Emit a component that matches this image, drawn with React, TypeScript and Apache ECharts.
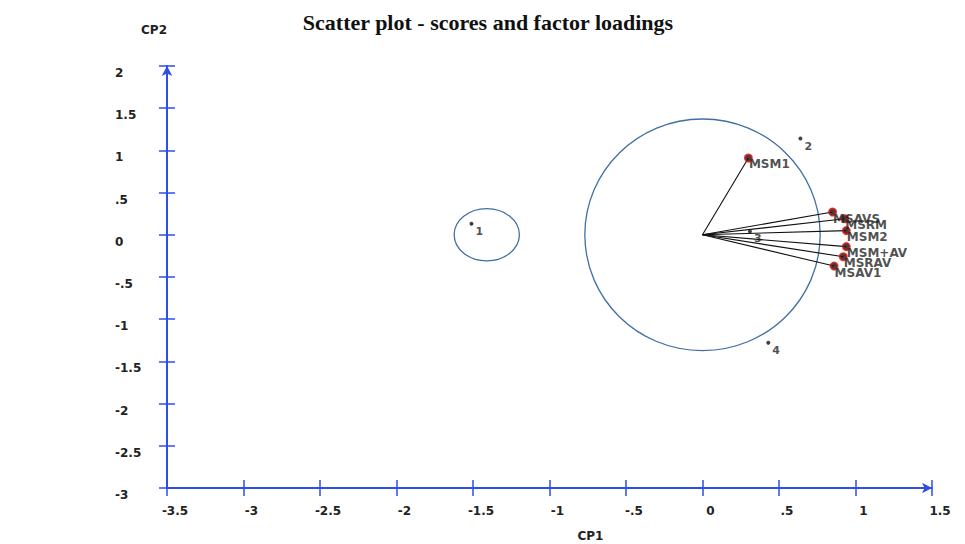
import React, { useEffect, useRef } from "react";
import * as echarts from "echarts";

const titleText = "Scatter plot - scores and factor loadings";
const xTickLabels = ["-3.5", "-3", "-2.5", "-2", "-1.5", "-1", "-.5", "0", ".5", "1", "1.5"];
const yTickLabels = ["-3", "-2.5", "-2", "-1.5", "-1", "-.5", "0", ".5", "1", "1.5", "2"];

const scoreNames = ["1", "2", "3", "4"];
const scoreX = [-1.51, 0.64, 0.31, 0.43];
const scoreY = [0.13, 1.14, 0.04, -1.28];

const loadingNames = ["MSM1", "MSAVS", "MSRM", "MSM2", "MSM+AV", "MSRAV", "MSAV1"];
const loadingX = [0.3, 0.85, 0.93, 0.94, 0.94, 0.92, 0.86];
const loadingY = [0.91, 0.27, 0.19, 0.05, -0.14, -0.26, -0.37];

const circleCx = [0, -1.41];
const circleCy = [0, 0];
const circleRx = [0.769, 0.213];
const circleRy = [1.372, 0.309];

const AXIS_BLUE = "#2f4de8";
const LABEL_FONT = "DejaVu Sans";

export default function App() {
  const ref = useRef<HTMLDivElement>(null);
  useEffect(() => {
    if (!ref.current) return;
    const chart = echarts.init(ref.current, undefined, { renderer: "svg" });
    const fmtX = (v: number) => {
      const i = Math.round((v + 3.5) / 0.5);
      return xTickLabels[i] ?? "";
    };
    const fmtY = (v: number) => {
      const i = Math.round((v + 3) / 0.5);
      return yTickLabels[i] ?? "";
    };
    const baseX = {
      type: "value",
      min: -3.5,
      max: 1.5,
      interval: 0.5,
      position: "bottom",
      offset: 0,
      splitLine: { show: false },
    };
    const baseY = {
      type: "value",
      min: -3,
      max: 2,
      interval: 0.5,
      position: "left",
      offset: 0,
      splitLine: { show: false },
    };
    chart.setOption({
      animation: false,
      backgroundColor: "#ffffff",
      title: {
        text: titleText,
        left: 483,
        textAlign: "center",
        top: 6,
        textStyle: {
          fontFamily: "Liberation Serif",
          fontWeight: "bold",
          fontSize: 22,
          color: "#111",
        },
      },
      grid: {
        left: 167,
        right: 33,
        top: 66,
        bottom: 56,
        containLabel: false,
        outerBoundsMode: "none",
      },
      xAxis: [
        {
          ...baseX,
          name: "CP1",
          nameLocation: "middle",
          nameGap: 42,
          nameTextStyle: {
            fontFamily: LABEL_FONT,
            fontWeight: "bold",
            fontSize: 12,
            color: "#222",
            padding: [0, 0, 0, 82],
          },
          axisLine: {
            show: true,
            onZero: false,
            lineStyle: { color: AXIS_BLUE, width: 2 },
            symbol: ["none", "arrow"],
            symbolSize: [8, 10],
          },
          axisTick: { show: true, length: 8, lineStyle: { color: AXIS_BLUE, width: 1.5 } },
          axisLabel: {
            show: true,
            formatter: fmtX,
            margin: 17,
            showMinLabel: true,
            showMaxLabel: true,
            fontFamily: LABEL_FONT,
            fontWeight: "bold",
            fontSize: 12,
            color: "#222",
            padding: [0, 0, 0, 16],
          },
        },
        {
          ...baseX,
          axisLine: { show: false, onZero: false },
          axisTick: { show: true, inside: true, length: 8, lineStyle: { color: AXIS_BLUE, width: 1.5 } },
          axisLabel: { show: false },
        },
      ],
      yAxis: [
        {
          ...baseY,
          name: "CP2",
          nameLocation: "end",
          nameGap: 30,
          nameTextStyle: {
            fontFamily: LABEL_FONT,
            fontWeight: "bold",
            fontSize: 12,
            color: "#222",
            align: "right",
            padding: [0, 0, 0, 0],
          },
          axisLine: {
            show: true,
            onZero: false,
            lineStyle: { color: AXIS_BLUE, width: 2 },
            symbol: ["none", "arrow"],
            symbolSize: [8, 10],
          },
          axisTick: { show: true, length: 8, lineStyle: { color: AXIS_BLUE, width: 1.5 } },
          axisLabel: {
            show: true,
            formatter: fmtY,
            margin: 52,
            align: "left",
            verticalAlign: "top",
            showMinLabel: true,
            showMaxLabel: true,
            fontFamily: LABEL_FONT,
            fontWeight: "bold",
            fontSize: 12,
            color: "#222",
            padding: [1, 0, 0, 0],
          },
        },
        {
          ...baseY,
          axisLine: { show: false, onZero: false },
          axisTick: { show: true, inside: true, length: 8, lineStyle: { color: AXIS_BLUE, width: 1.5 } },
          axisLabel: { show: false },
        },
      ],
      series: [
        {
          type: "custom",
          name: "circles",
          xAxisIndex: 0,
          yAxisIndex: 0,
          silent: true,
          data: circleCx.map((cx, i) => [cx, circleCy[i], circleRx[i], circleRy[i]]),
          renderItem: (params: any, api: any) => {
            const c = api.coord([api.value(0), api.value(1)]);
            const s = api.size([api.value(2), api.value(3)]);
            return {
              type: "ellipse",
              shape: { cx: c[0], cy: c[1], rx: s[0], ry: s[1] },
              style: { fill: "none", stroke: "#3f6fa3", lineWidth: 1.3 },
            };
          },
          z: 1,
        },
        {
          type: "lines",
          name: "vectors",
          coordinateSystem: "cartesian2d",
          xAxisIndex: 0,
          yAxisIndex: 0,
          silent: true,
          lineStyle: { color: "#111", width: 1.1, opacity: 1 },
          data: loadingX.map((x, i) => ({ coords: [[0, 0], [x, loadingY[i]]] })),
          z: 2,
        },
        {
          type: "scatter",
          name: "loadings",
          xAxisIndex: 0,
          yAxisIndex: 0,
          symbol: "circle",
          symbolSize: 7,
          itemStyle: { color: "#111", borderColor: "#d01010", borderWidth: 2 },
          label: {
            show: true,
            position: [5, 5],
            align: "left",
            verticalAlign: "top",
            formatter: (p: any) => p.name,
            fontFamily: LABEL_FONT,
            fontWeight: "bold",
            fontSize: 12,
            color: "#222",
          },
          data: loadingX.map((x, i) => ({ name: loadingNames[i], value: [x, loadingY[i]] })),
          z: 3,
        },
        {
          type: "scatter",
          name: "scores",
          xAxisIndex: 0,
          yAxisIndex: 0,
          symbol: "circle",
          symbolSize: 4,
          itemStyle: { color: "#111" },
          label: {
            show: true,
            position: [6, 4],
            align: "left",
            verticalAlign: "top",
            formatter: (p: any) => p.name,
            fontFamily: LABEL_FONT,
            fontWeight: "bold",
            fontSize: 11,
            color: "#222",
          },
          data: scoreX.map((x, i) => ({ name: scoreNames[i], value: [x, scoreY[i]] })),
          z: 3,
        },
      ],
    });
    return () => chart.dispose();
  }, []);
  return (
    <div
      ref={ref}
      style={{ position: "fixed", left: 0, top: 0, width: 965, height: 544, background: "#fff" }}
    />
  );
}
